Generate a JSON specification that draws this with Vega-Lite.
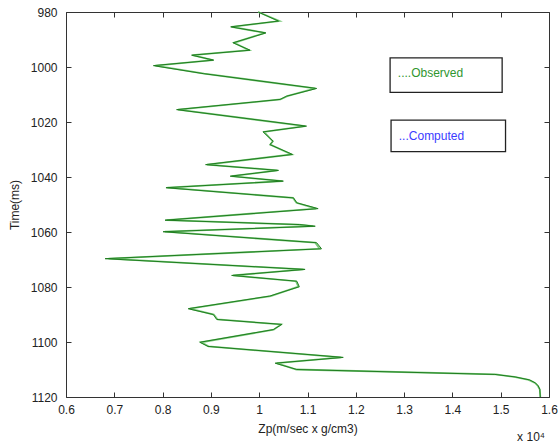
{
  "$schema": "https://vega.github.io/schema/vega-lite/v6.json",
  "width": 483,
  "height": 385,
  "autosize": {"type": "none"},
  "padding": {"left": 66, "top": 12, "right": 11, "bottom": 49},
  "background": "white",
  "config": {
    "view": {"stroke": "#333333", "strokeWidth": 1},
    "axis": {
      "labelFont": "Liberation Sans",
      "titleFont": "Liberation Sans",
      "labelFontSize": 12,
      "titleFontSize": 12,
      "labelColor": "#222222",
      "titleColor": "#222222",
      "titleFontWeight": "normal",
      "grid": false,
      "domain": false,
      "ticks": true,
      "tickColor": "#333333",
      "tickWidth": 1,
      "tickSize": 5,
      "offset": -5
    }
  },
  "datasets": {
    "observed": [
      {"t": 980, "z": 0.998}, {"t": 983.3, "z": 1.04}, {"t": 985.4, "z": 0.941}, {"t": 987.6, "z": 1.014},
      {"t": 991.2, "z": 0.946}, {"t": 993.9, "z": 0.981}, {"t": 995.7, "z": 0.86}, {"t": 997.5, "z": 0.906},
      {"t": 999.5, "z": 0.781}, {"t": 1002.4, "z": 0.884}, {"t": 1007.8, "z": 1.119}, {"t": 1010.6, "z": 1.057},
      {"t": 1011.8, "z": 1.043}, {"t": 1015.5, "z": 0.829}, {"t": 1021.5, "z": 1.098}, {"t": 1023.6, "z": 1.008},
      {"t": 1027.0, "z": 1.029}, {"t": 1028.2, "z": 1.022}, {"t": 1031.8, "z": 1.069}, {"t": 1035.5, "z": 0.889},
      {"t": 1037.6, "z": 1.04}, {"t": 1039.7, "z": 0.94}, {"t": 1041.5, "z": 1.05}, {"t": 1043.9, "z": 0.807},
      {"t": 1047.6, "z": 1.071}, {"t": 1049.4, "z": 1.078}, {"t": 1051.5, "z": 1.122}, {"t": 1055.7, "z": 0.805},
      {"t": 1057.3, "z": 1.084}, {"t": 1057.9, "z": 1.116}, {"t": 1059.9, "z": 0.801}, {"t": 1063.9, "z": 1.119},
      {"t": 1066.1, "z": 1.129}, {"t": 1069.7, "z": 0.681}, {"t": 1073.6, "z": 1.095}, {"t": 1075.8, "z": 0.943},
      {"t": 1077.9, "z": 1.078}, {"t": 1079.9, "z": 1.083}, {"t": 1083.3, "z": 1.022}, {"t": 1087.9, "z": 0.853},
      {"t": 1090.0, "z": 0.905}, {"t": 1091.8, "z": 0.912}, {"t": 1093.6, "z": 1.047}, {"t": 1095.5, "z": 1.029},
      {"t": 1100.1, "z": 0.877}, {"t": 1101.6, "z": 0.894}, {"t": 1105.6, "z": 1.174}, {"t": 1107.7, "z": 1.033},
      {"t": 1110.0, "z": 1.078}, {"t": 1111.8, "z": 1.488}, {"t": 1112.7, "z": 1.53}, {"t": 1113.8, "z": 1.56},
      {"t": 1114.9, "z": 1.572}, {"t": 1116.0, "z": 1.578}, {"t": 1117.3, "z": 1.581}, {"t": 1120, "z": 1.582}
    ],
    "computed": [
      {"t": 980, "z": 0.998}, {"t": 983.3, "z": 1.042}, {"t": 985.4, "z": 0.943}, {"t": 987.6, "z": 1.012},
      {"t": 991.2, "z": 0.948}, {"t": 993.9, "z": 0.979}, {"t": 995.7, "z": 0.862}, {"t": 997.5, "z": 0.904},
      {"t": 999.5, "z": 0.785}, {"t": 1002.4, "z": 0.886}, {"t": 1007.8, "z": 1.116}, {"t": 1010.6, "z": 1.058},
      {"t": 1011.8, "z": 1.044}, {"t": 1015.5, "z": 0.832}, {"t": 1021.5, "z": 1.095}, {"t": 1023.6, "z": 1.01},
      {"t": 1027.0, "z": 1.028}, {"t": 1028.2, "z": 1.023}, {"t": 1031.8, "z": 1.067}, {"t": 1035.5, "z": 0.892},
      {"t": 1037.6, "z": 1.038}, {"t": 1039.7, "z": 0.943}, {"t": 1041.5, "z": 1.048}, {"t": 1043.9, "z": 0.81},
      {"t": 1047.6, "z": 1.07}, {"t": 1049.4, "z": 1.077}, {"t": 1051.5, "z": 1.118}, {"t": 1055.7, "z": 0.808},
      {"t": 1057.3, "z": 1.082}, {"t": 1057.9, "z": 1.112}, {"t": 1059.9, "z": 0.805}, {"t": 1063.9, "z": 1.116},
      {"t": 1066.1, "z": 1.125}, {"t": 1069.7, "z": 0.688}, {"t": 1073.6, "z": 1.092}, {"t": 1075.8, "z": 0.946},
      {"t": 1077.9, "z": 1.076}, {"t": 1079.9, "z": 1.081}, {"t": 1083.3, "z": 1.024}, {"t": 1087.9, "z": 0.856},
      {"t": 1090.0, "z": 0.906}, {"t": 1091.8, "z": 0.914}, {"t": 1093.6, "z": 1.045}, {"t": 1095.5, "z": 1.03},
      {"t": 1100.1, "z": 0.88}, {"t": 1101.6, "z": 0.895}, {"t": 1105.6, "z": 1.17}, {"t": 1107.7, "z": 1.036},
      {"t": 1110.0, "z": 1.077}, {"t": 1111.8, "z": 1.49}, {"t": 1112.7, "z": 1.528}, {"t": 1113.8, "z": 1.558},
      {"t": 1114.9, "z": 1.571}, {"t": 1116.0, "z": 1.577}, {"t": 1117.3, "z": 1.581}, {"t": 1120, "z": 1.582}
    ],
    "boxes": [
      {"label": "....Observed", "x1": 1.271, "x2": 1.503, "t1": 996.7, "t2": 1009.2, "tx": 1.287, "ty": 1002.2},
      {"label": "...Computed", "x1": 1.273, "x2": 1.51, "t1": 1019.3, "t2": 1030.8, "tx": 1.289, "ty": 1025.0}
    ],
    "exponent": [
      {"label": "x 10⁴", "z": 1.534, "t": 1134.6}
    ]
  },
  "layer": [
    {
      "data": {"name": "computed"},
      "mark": {"type": "line", "color": "#7ccb7c", "strokeWidth": 1.8},
      "encoding": {
        "x": {
          "field": "z", "type": "quantitative",
          "scale": {"domain": [0.6, 1.6], "nice": false, "zero": false},
          "axis": {
            "orient": "bottom",
            "values": [0.6, 0.7, 0.8, 0.9, 1, 1.1, 1.2, 1.3, 1.4, 1.5, 1.6],
            "format": ".2~f",
            "labelPadding": 7,
            "labelFlush": false,
            "title": "Zp(m/sec x g/cm3)",
            "titlePadding": 8
          }
        },
        "y": {
          "field": "t", "type": "quantitative",
          "scale": {"domain": [980, 1120], "reverse": true, "nice": false, "zero": false},
          "axis": {
            "orient": "left",
            "values": [980, 1000, 1020, 1040, 1060, 1080, 1100, 1120],
            "format": "d",
            "labelPadding": 9,
            "labelFlush": false,
            "title": "Time(ms)",
            "titlePadding": 9
          }
        },
        "order": {"field": "t", "type": "quantitative"}
      }
    },
    {
      "data": {"name": "observed"},
      "mark": {"type": "line", "color": "#1f7d1f", "strokeWidth": 1},
      "encoding": {
        "x": {"field": "z", "type": "quantitative", "axis": {"orient": "top", "values": [0.6, 0.7, 0.8, 0.9, 1, 1.1, 1.2, 1.3, 1.4, 1.5, 1.6], "labels": false, "title": null}},
        "y": {"field": "t", "type": "quantitative", "axis": {"orient": "right", "values": [980, 1000, 1020, 1040, 1060, 1080, 1100, 1120], "labels": false, "title": null}},
        "order": {"field": "t", "type": "quantitative"}
      }
    },
    {
      "data": {"name": "boxes"},
      "mark": {"type": "rect", "fill": "white", "stroke": "#222222", "strokeWidth": 1.3},
      "encoding": {
        "x": {"field": "x1", "type": "quantitative", "axis": null},
        "x2": {"field": "x2"},
        "y": {"field": "t1", "type": "quantitative", "axis": null},
        "y2": {"field": "t2"}
      }
    },
    {
      "data": {"name": "boxes"},
      "mark": {"type": "text", "align": "left", "baseline": "middle", "font": "Liberation Sans", "fontSize": 12},
      "encoding": {
        "x": {"field": "tx", "type": "quantitative", "axis": null},
        "y": {"field": "ty", "type": "quantitative", "axis": null},
        "text": {"field": "label"},
        "color": {"field": "label", "type": "nominal", "scale": {"domain": ["....Observed", "...Computed"], "range": ["#2f962f", "#3b3bff"]}, "legend": null}
      }
    },
    {
      "data": {"name": "exponent"},
      "mark": {"type": "text", "align": "left", "baseline": "middle", "font": "Liberation Sans", "fontSize": 12, "color": "#222222"},
      "encoding": {
        "x": {"field": "z", "type": "quantitative", "axis": null},
        "y": {"field": "t", "type": "quantitative", "axis": null},
        "text": {"field": "label"}
      }
    }
  ],
  "resolve": {"axis": {"x": "independent", "y": "independent"}}
}
